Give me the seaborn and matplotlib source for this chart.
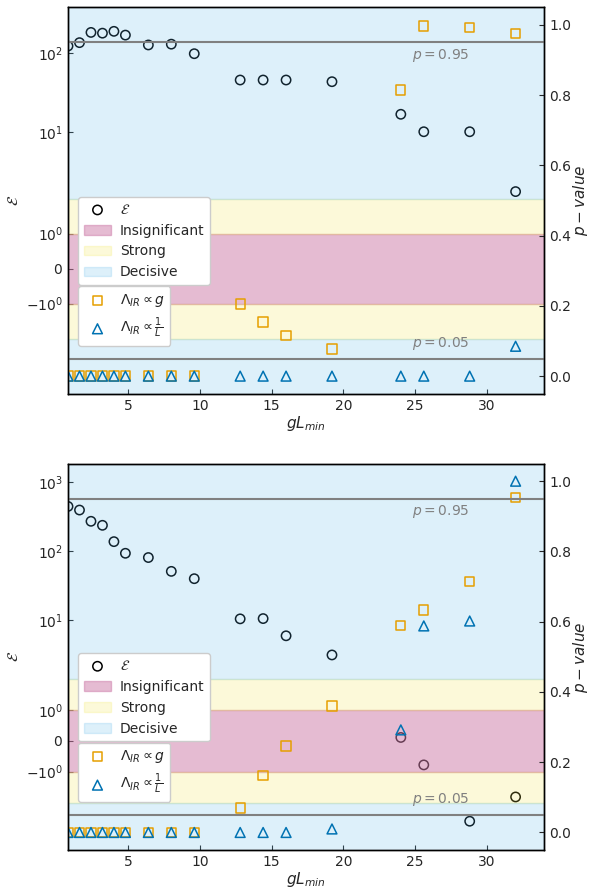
import numpy as np
import pandas as pd
import matplotlib
matplotlib.use("Agg")
import matplotlib.pyplot as plt
from matplotlib.ticker import NullLocator
import seaborn as sns

# Lattice extents (g * L_min)
gL = [0.8, 1.6, 2.4, 3.2, 4.0, 4.8, 6.4, 8.0, 9.6, 12.8, 14.4, 16.0, 19.2,
      24.0, 25.6, 28.8, 32.0]

# Upper panel: evidence and p-values of the two IR cutoff fits
evidence_top = [124, 137, 185, 181, 191, 171, 128, 131, 99, 45.7, 45.7, 45.7,
                43.5, 16.7, 10.0, 10.0, 2.2]
p_g_top = [0, 0, 0, 0, 0, 0, 0, 0, 0, 0.205, 0.154, 0.116, 0.077, 0.815,
           0.997, 0.992, 0.975]
p_L_top = [0, 0, 0, 0, 0, 0, 0, 0, 0, 0, 0, 0, 0, 0, 0, 0, 0.085]

# Lower panel
evidence_bot = [447, 396, 272, 238, 138, 93.6, 81.2, 51.2, 40.1, 10.5, 10.6,
                5.97, 3.15, 0.11, -0.78, -2.62, -1.82]
p_g_bot = [0, 0, 0, 0, 0, 0, 0, 0, 0, 0.070, 0.163, 0.246, 0.360, 0.590,
           0.633, 0.714, 0.954]
p_L_bot = [0, 0, 0, 0, 0, 0, 0, 0, 0, 0, 0, 0, 0.010, 0.292, 0.588, 0.602, 1.0]

# Evidence scale thresholds
insignificant_max = 1
strong_max = 2

ORANGE = "#E69F00"
BLUE = "#0072B2"
PINK = "#CC79A7"
YELLOW = "#F0E442"
SKY = "#56B4E9"

sns.set_style("ticks", {"xtick.direction": "in", "ytick.direction": "in"})
plt.rcParams["font.family"] = ["DejaVu Sans"]
plt.rcParams["axes.linewidth"] = 1.0


def hollow(ax, color, label=None):
    coll = ax.collections[-1]
    coll.set_facecolor("none")
    coll.set_edgecolor(color)
    coll.set_linewidth(1.1)
    if label is not None:
        coll.set_label(label)


def draw_panel(ax, evidence, p_g, p_L, ylim):
    df = pd.DataFrame({"gL": gL, "E": evidence, "pg": p_g, "pL": p_L})
    ax.set_yscale("symlog", linthresh=2.6, linscale=1.045)

    sns.scatterplot(data=df, x="gL", y="E", ax=ax, marker="o", s=45,
                    color="black", legend=False)
    hollow(ax, "black", r"$\mathcal{E}$")

    ax.axhspan(-insignificant_max, insignificant_max, color=PINK, alpha=0.5,
               label="Insignificant")
    ax.axhspan(insignificant_max, strong_max, color=YELLOW, alpha=0.2,
               label="Strong")
    ax.axhspan(-strong_max, -insignificant_max, color=YELLOW, alpha=0.2)
    ax.axhspan(strong_max, 1e5, color=SKY, alpha=0.2, label="Decisive")
    ax.axhspan(-1e5, -strong_max, color=SKY, alpha=0.2)

    ax.set_ylim(*ylim)
    ax.set_xlim(0.8, 34)
    ax.yaxis.set_minor_locator(NullLocator())
    ax.set_ylabel(r"$\mathcal{E}$", fontsize=11)
    ax.set_xlabel(r"$gL_{min}$", fontsize=11, labelpad=1)

    ax2 = ax.twinx()
    sns.scatterplot(data=df, x="gL", y="pg", ax=ax2, marker="s", s=45,
                    color=ORANGE, legend=False)
    hollow(ax2, ORANGE, r"$\Lambda_{IR} \propto g$")
    sns.scatterplot(data=df, x="gL", y="pL", ax=ax2, marker="^", s=50,
                    color=BLUE, legend=False)
    hollow(ax2, BLUE, r"$\Lambda_{IR} \propto \frac{1}{L}$")

    ax2.axhline(0.95, color="gray", lw=1.5)
    ax2.axhline(0.05, color="gray", lw=1.5)
    ax2.text(26.8, 0.938, r"$p = 0.95$", color="gray", ha="center", va="top",
             fontsize=10)
    ax2.text(26.8, 0.069, r"$p = 0.05$", color="gray", ha="center",
             va="bottom", fontsize=10)
    ax2.set_ylim(-0.05, 1.05)
    ax2.set_ylabel(r"$p-value$", fontsize=11, labelpad=0)
    ax2.tick_params(direction="in")
    ax.tick_params(direction="in")

    h1, l1 = ax.get_legend_handles_labels()
    h2, l2 = ax2.get_legend_handles_labels()
    leg1 = ax2.legend(h1, l1, loc="upper left", bbox_to_anchor=(0.021, 0.509),
                      borderaxespad=0, fontsize=10, framealpha=1,
                      handletextpad=0.6)
    ax2.add_artist(leg1)
    ax2.legend(h2, l2, loc="upper left", bbox_to_anchor=(0.021, 0.278),
               borderaxespad=0, fontsize=10, framealpha=1, handletextpad=0.6)
    for sp in list(ax.spines.values()) + list(ax2.spines.values()):
        sp.set_visible(True)
        sp.set_color("black")


fig, (ax_top, ax_bot) = plt.subplots(2, 1, figsize=(5.92, 8.9), dpi=100)
fig.subplots_adjust(left=0.1149, right=0.9194, top=0.9918, bottom=0.0449,
                    hspace=0.181)

draw_panel(ax_top, evidence_top, p_g_top, p_L_top, (-7.08, 387))
draw_panel(ax_bot, evidence_bot, p_g_bot, p_L_bot, (-6.85, 1862))

fig.savefig("out.png", dpi=100)
